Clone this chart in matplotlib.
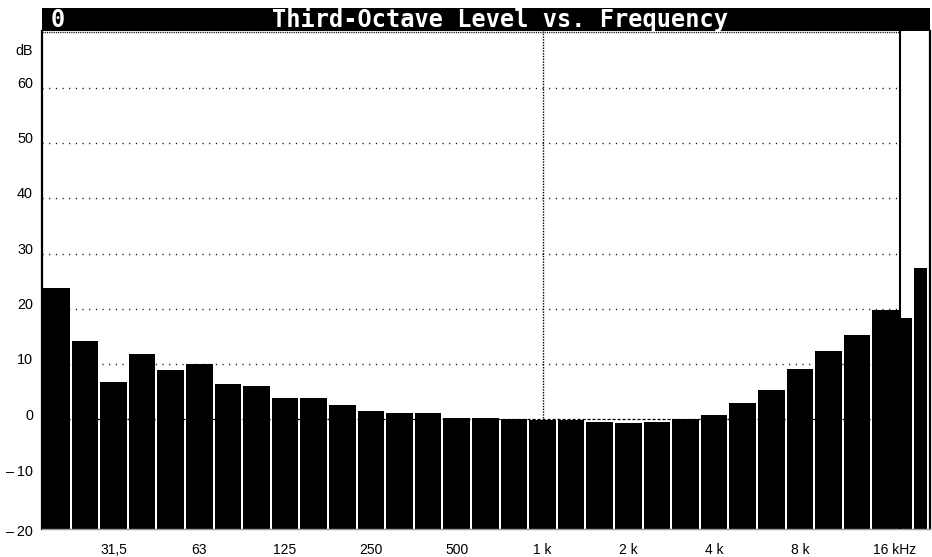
import matplotlib
matplotlib.use("Agg")
import matplotlib.pyplot as plt
from matplotlib.patches import Rectangle
import matplotlib.transforms as mtransforms

# ---- data ----
bands = ["20", "25", "31,5", "40", "50", "63", "80", "100", "125", "160",
         "200", "250", "315", "400", "500", "630", "800", "1 k", "1,25 k", "1,6 k",
         "2 k", "2,5 k", "3,15 k", "4 k", "5 k", "6,3 k", "8 k", "10 k", "12,5 k", "16 k"]
levels = [23.7, 14.2, 6.7, 11.7, 8.8, 9.9, 6.4, 5.9, 3.7, 3.7,
          2.5, 1.4, 1.1, 1.0, 0.2, 0.2, 0.0, -0.2, -0.3, -0.6,
          -0.8, -0.6, 0.0, 0.7, 2.8, 5.2, 9.0, 12.4, 15.3, 19.8]
sum_labels = ["A", "Lin"]
sum_levels = [18.3, 27.4]
xtick_bands = ["31,5", "63", "125", "250", "500", "1 k", "2 k", "4 k", "8 k", "16 k"]
xtick_labels = ["31,5", "63", "125", "250", "500", "1 k", "2 k", "4 k", "8 k", "16 kHz"]
ytick_values = [-20, -10, 0, 10, 20, 30, 40, 50, 60]
ytick_labels = ["\u2013\u200920", "\u2013\u200910", "0", "10", "20", "30", "40", "50", "60"]
grid_values = [10, 20, 30, 40, 50, 60]
unit_label = "dB"
title = "Third-Octave Level vs. Frequency"
corner_label = "0"

# ---- layout ----
W, H = 932, 557
fig = plt.figure(figsize=(W / 100, H / 100), dpi=100)
fig.patch.set_facecolor("white")


def fx(px):
    return px / W


def fy(py):
    return 1 - py / H


BAND_PX = 28.6
YMIN, YMAX = -20, 70.4
ax = fig.add_axes([fx(42), fy(529), fx(930) - fx(42), fy(31) - fy(529)])
ax.set_xlim(-0.5, -0.5 + 888 / BAND_PX)
ax.set_ylim(YMIN, YMAX)
n = len(bands)

# gridlines (main region only)
ax.hlines(grid_values, -0.5, n - 0.5, colors="black", linewidth=1.0,
          linestyles=[(0, (0.8, 4))], zorder=1)
ax.hlines([0], -0.5, n - 0.5, colors="black", linewidth=0.9,
          linestyles=[(0, (2.5, 1.5))], zorder=1)
# top dotted border
ax.hlines([YMAX - 0.15], -0.5, n - 0.5, colors="black", linewidth=1.0,
          linestyles=[(0, (0.8, 0.8))], zorder=1, clip_on=False)
# 1 kHz dotted cursor
ax.vlines([bands.index("1 k")], YMIN, YMAX, colors="black", linewidth=1.0,
          linestyles=[(0, (1, 1))], zorder=1)

# main bars
xs = list(range(n))
ax.bar(xs, [v - YMIN for v in levels], bottom=YMIN, width=0.93,
       color="black", edgecolor="none", zorder=2)

# broadband bars (A, Lin)
sum_x = [n - 0.5 + 6 / BAND_PX, n - 0.5 + 20.5 / BAND_PX]
sum_w = [12 / BAND_PX, 13 / BAND_PX]
for x, w, v in zip(sum_x, sum_w, sum_levels):
    ax.bar([x], [v - YMIN], bottom=YMIN, width=w, color="black",
           edgecolor="none", zorder=2)

# separator line
ax.axvline(n - 0.5, color="black", linewidth=1.5, zorder=3)

# spines
ax.spines["top"].set_visible(False)
ax.spines["left"].set_linewidth(1.6)
ax.spines["right"].set_linewidth(1.6)
ax.spines["bottom"].set_color("#999999")
ax.spines["bottom"].set_linewidth(1.0)
ax.set_facecolor("white")

# ticks
xtick_font = dict(family=["Liberation Sans", "DejaVu Sans"], size=10)
ytick_font = dict(family=["Liberation Sans", "DejaVu Sans"], size=10.4)
ax.set_yticks(ytick_values)
ax.set_yticklabels(ytick_labels, **ytick_font)
ax.tick_params(axis="y", length=0, pad=6.5)
ax.set_xticks([bands.index(b) for b in xtick_bands])
ax.set_xticklabels(xtick_labels, **xtick_font)
ax.tick_params(axis="x", length=0, pad=10)

y_shift_px = {-20: -1.5, -10: 3, 0: 4}
for val, lab in zip(ytick_values, ax.get_yticklabels()):
    dy = y_shift_px.get(val, 5.5)
    lab.set_transform(lab.get_transform() +
                      mtransforms.ScaledTranslation(0, dy / 100, fig.dpi_scale_trans))
last = ax.get_xticklabels()[-1]
last.set_horizontalalignment("left")
last.set_transform(last.get_transform() +
                   mtransforms.ScaledTranslation(-13 / 100, 0, fig.dpi_scale_trans))

fig.text(fx(33), fy(51), unit_label, ha="right", va="center", **ytick_font)

# title bar
fig.patches.append(Rectangle((fx(42), fy(31)), fx(930) - fx(42), fy(8) - fy(31),
                             transform=fig.transFigure, facecolor="black",
                             edgecolor="none", zorder=5))
title_font = dict(family="DejaVu Sans Mono", weight="bold", size=17, color="white")
fig.text(fx(51), fy(20), corner_label, ha="left", va="center", zorder=6, **title_font)
fig.text(fx(272), fy(20), title, ha="left", va="center", zorder=6, **title_font)

fig.savefig("out.png", dpi=100, facecolor="white")
